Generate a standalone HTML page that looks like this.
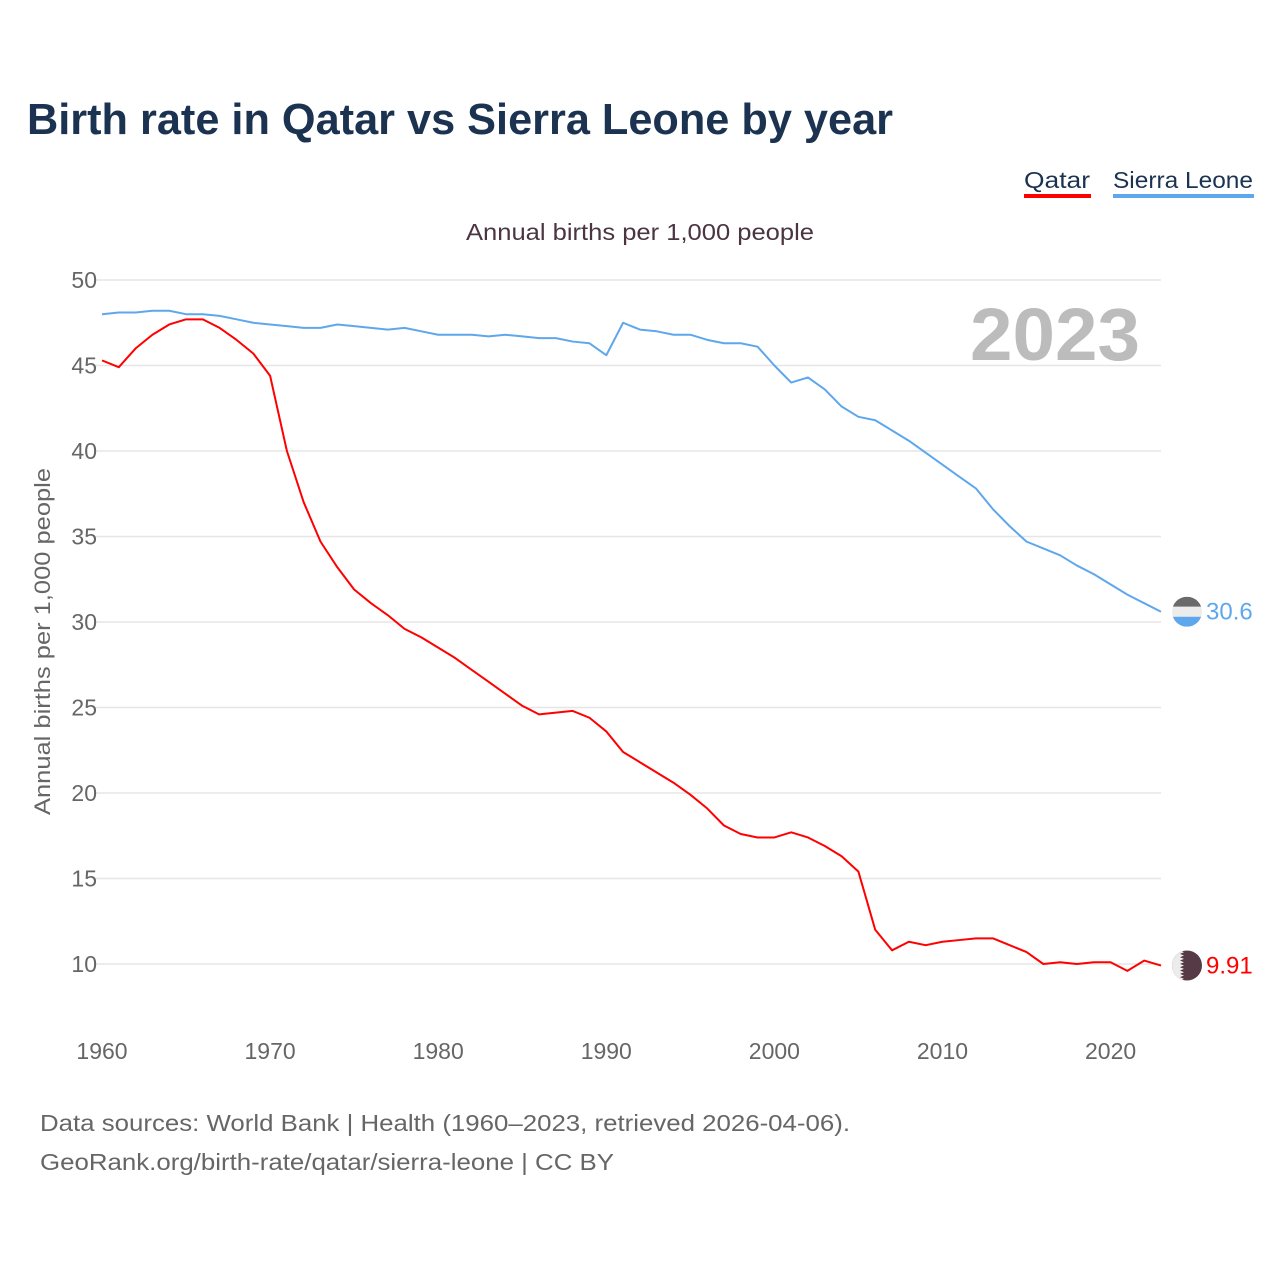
<!DOCTYPE html>
<html><head><meta charset="utf-8"><style>
body{margin:0;background:#fff;font-family:"Liberation Sans",sans-serif}
svg text{font-family:"Liberation Sans",sans-serif}
</style></head><body>
<svg id="c" width="1280" height="1280" viewBox="0 0 1280 1280">
<text x="27" y="134" font-size="44" font-weight="bold" fill="#1b3350" textLength="866" lengthAdjust="spacingAndGlyphs">Birth rate in Qatar vs Sierra Leone by year</text>
<g><text x="1024" y="188" font-size="23" fill="#1b3350" textLength="66" lengthAdjust="spacingAndGlyphs">Qatar</text><rect x="1024" y="194" width="67" height="4" fill="#ff0000"/></g>
<g><text x="1113" y="188" font-size="23" fill="#1b3350" textLength="140" lengthAdjust="spacingAndGlyphs">Sierra Leone</text><rect x="1113" y="194" width="141" height="4" fill="#5fa7ec"/></g>
<text x="466" y="240" font-size="23" fill="#4a3540" textLength="348" lengthAdjust="spacingAndGlyphs">Annual births per 1,000 people</text>
<text x="1140" y="360" text-anchor="end" font-size="74" font-weight="bold" fill="#bcbcbc" textLength="170" lengthAdjust="spacingAndGlyphs">2023</text>
<text transform="translate(50,815) rotate(-90)" font-size="22" fill="#666" textLength="347" lengthAdjust="spacingAndGlyphs">Annual births per 1,000 people</text>
<g id="grid"></g><g id="lines"></g>
<text x="40" y="1131" font-size="23" fill="#666" textLength="810" lengthAdjust="spacingAndGlyphs">Data sources: World Bank | Health (1960–2023, retrieved 2026-04-06).</text>
<text x="40" y="1170" font-size="23" fill="#666" textLength="574" lengthAdjust="spacingAndGlyphs">GeoRank.org/birth-rate/qatar/sierra-leone | CC BY</text>
</svg>
<script>
const years=[];for(let y=1960;y<=2023;y++)years.push(y);
const qatar=[45.3,44.9,46.0,46.8,47.4,47.7,47.7,47.2,46.5,45.7,44.4,40.0,37.0,34.7,33.2,31.9,31.1,30.4,29.6,29.1,28.5,27.9,27.2,26.5,25.8,25.1,24.6,24.7,24.8,24.4,23.6,22.4,21.8,21.2,20.6,19.9,19.1,18.1,17.6,17.4,17.4,17.7,17.4,16.9,16.3,15.4,12.0,10.8,11.3,11.1,11.3,11.4,11.5,11.5,11.1,10.7,10.0,10.1,10.0,10.1,10.1,9.6,10.2,9.91];
const sierra=[48.0,48.1,48.1,48.2,48.2,48.0,48.0,47.9,47.7,47.5,47.4,47.3,47.2,47.2,47.4,47.3,47.2,47.1,47.2,47.0,46.8,46.8,46.8,46.7,46.8,46.7,46.6,46.6,46.4,46.3,45.6,47.5,47.1,47.0,46.8,46.8,46.5,46.3,46.3,46.1,45.0,44.0,44.3,43.6,42.6,42.0,41.8,41.2,40.6,39.9,39.2,38.5,37.8,36.6,35.6,34.7,34.3,33.9,33.3,32.8,32.2,31.6,31.1,30.6];
const yTicks=[10,15,20,25,30,35,40,45,50];
const xTicks=[1960,1970,1980,1990,2000,2010,2020];
const X=v=>102+(v-1960)*(1161-102)/63;
const Y=v=>964-(v-10)*(964-280)/40;
const NS='http://www.w3.org/2000/svg';
const g=document.getElementById('grid'),L=document.getElementById('lines');
function mk(t,a,p){const e=document.createElementNS(NS,t);for(const k in a)e.setAttribute(k,a[k]);p.appendChild(e);return e;}
yTicks.forEach(v=>{
 const l=mk('line',{x1:95,x2:1161,y1:Y(v),y2:Y(v),stroke:'#e6e6e6','stroke-width':1.5},g);
 
 
 const t=mk('text',{x:97,y:Y(v)+8,'text-anchor':'end','font-size':23,fill:'#666'},g);t.textContent=v;
 
 
});
xTicks.forEach(v=>{
 const t=mk('text',{x:X(v),y:1059,'text-anchor':'middle','font-size':23,fill:'#666'},g);t.textContent=v;
 
 
});
function line(d,c,n){
 const p=mk('polyline',{points:d.map((v,i)=>X(years[i])+','+Y(v)).join(' '),fill:'none',stroke:c,'stroke-width':2,'stroke-linejoin':'round'},L);
 
 
}
line(sierra,'#5fa7ec','sierra-leone-line');
line(qatar,'#ff0000','qatar-line');
const sy=Y(sierra[sierra.length-1]),qy=Y(qatar[qatar.length-1]),fx=1187,r=15;
const defs=mk('defs',{},L);
const cp1=mk('clipPath',{id:'c1'},defs);mk('circle',{cx:fx,cy:sy,r:r},cp1);
const cp2=mk('clipPath',{id:'c2'},defs);mk('circle',{cx:fx,cy:qy,r:r},cp2);
const f1=mk('g',{'clip-path':'url(#c1)'},L);


mk('rect',{x:fx-r,y:sy-r,width:2*r,height:10,fill:'#6a6a6a'},f1);
mk('rect',{x:fx-r,y:sy-5,width:2*r,height:10,fill:'#ececec'},f1);
mk('rect',{x:fx-r,y:sy+5,width:2*r,height:10,fill:'#5fa7ec'},f1);
const f2=mk('g',{'clip-path':'url(#c2)'},L);


mk('rect',{x:fx-r,y:qy-r,width:2*r,height:2*r,fill:'#563b47'},f2);
let pts=(fx-r)+','+(qy-r);for(let i=0;i<=9;i++){pts+=' '+(fx-7)+','+(qy-r+i*3.33)+' '+(fx-3)+','+(qy-r+i*3.33+1.67);}
pts+=' '+(fx-r)+','+(qy+r);
mk('polygon',{points:pts,fill:'#ececec'},f2);
const t1=mk('text',{x:1206,y:sy+8,'font-size':24,fill:'#5fa7ec'},L);t1.textContent=sierra[sierra.length-1].toFixed(1);


const t2=mk('text',{x:1206,y:qy+8,'font-size':24,fill:'#ff0000'},L);t2.textContent=qatar[qatar.length-1];


</script>
</body></html>
